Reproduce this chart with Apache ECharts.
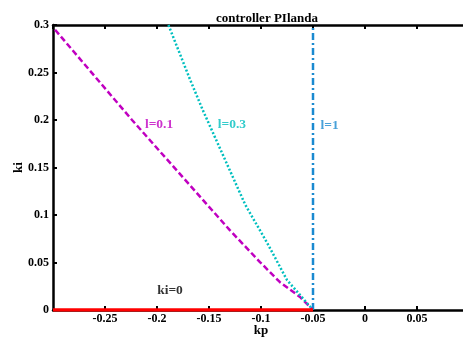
<!DOCTYPE html>
<html><head><meta charset="utf-8">
<script src="https://cdn.jsdelivr.net/npm/echarts@6/dist/echarts.min.js"></script>
<style>html,body{margin:0;padding:0;background:#fff}#c{width:463px;height:337px}</style>
</head><body><div id="c"></div>
<script>
// Curve l=0.1 (kp, ki) points
const l01 = [[-0.298,0.295],[-0.224,0.2],[-0.147,0.105],[-0.130,0.084],[-0.101,0.0505],[-0.082,0.0295],[-0.0625,0.0137],[-0.05,0]];
// Curve l=0.3
const l03 = [[-0.189,0.3],[-0.168,0.242],[-0.156,0.2105],[-0.115,0.1105],[-0.094,0.0705],[-0.075,0.0316],[-0.05,0]];
// Curve l=1 (vertical)
const l1 = [[-0.05,0],[-0.05,0.3]];
// ki=0 boundary
const ki0 = [[-0.3,0],[-0.05,0]];
// annotation texts and anchor points
const annTexts = ['l=0.1','l=0.3','l=1','ki=0'];
const annPoints = [[-0.198,0.195],[-0.128,0.195],[-0.034,0.194],[-0.1875,0.02]];
const annColors = ['#c000c0','#00bfbf','#1a8ad0','#000000'];

const FONT = 'Liberation Serif';
const chart = echarts.init(document.getElementById('c'));
const axisCommon = {
  min:-0.3, max:0.1, interval:0.05
};
chart.setOption({
  animation:false,
  title:{text:'controller PIlanda', left:262, top:7, textAlign:'center',
    textStyle:{fontFamily:FONT,fontWeight:'bold',fontSize:13,color:'#000'}},
  grid:{left:53, top:25, width:416, height:285, containLabel:false, outerBoundsMode:'none'},
  xAxis:[{
    type:'value', ...axisCommon, position:'bottom',
    name:'kp', nameLocation:'middle', nameGap:14, nameMoveOverlap:false,
    nameTextStyle:{fontFamily:FONT,fontWeight:'bold',fontSize:13,color:'#000'},
    axisLine:{onZero:false,lineStyle:{color:'#000',width:2.5}},
    axisTick:{inside:true,length:4,lineStyle:{color:'#000',width:2}},
    axisLabel:{showMinLabel:false,showMaxLabel:false,margin:3,fontFamily:FONT,fontWeight:'bold',fontSize:12,color:'#000'},
    splitLine:{show:false}
  },{
    type:'value', ...axisCommon, position:'top',
    axisLine:{onZero:false,lineStyle:{color:'#000',width:2.5}},
    axisTick:{inside:true,length:4,lineStyle:{color:'#000',width:2}},
    axisLabel:{show:false}, splitLine:{show:false}
  }],
  yAxis:{
    type:'value', min:0, max:0.3, interval:0.05, position:'left',
    name:'ki', nameLocation:'middle', nameGap:28, nameRotate:90, nameMoveOverlap:false,
    nameTextStyle:{fontFamily:FONT,fontWeight:'bold',fontSize:13,color:'#000'},
    axisLine:{show:true,onZero:false,lineStyle:{color:'#000',width:2.5}},
    axisTick:{show:true,inside:true,length:4,lineStyle:{color:'#000',width:2}},
    axisLabel:{margin:4,fontFamily:FONT,fontWeight:'bold',fontSize:12,color:'#000'},
    splitLine:{show:false}
  },
  series:[
    {type:'line', data:ki0, showSymbol:false, z:5, lineStyle:{color:'#ff0000',width:3.5}},
    {type:'line', data:l01, showSymbol:false, lineStyle:{color:'#c000c0',width:2.5,type:[6,3]}},
    {type:'line', data:l03, showSymbol:false, lineStyle:{color:'#00bfbf',width:2.5,type:[2,2]}},
    {type:'line', data:l1, showSymbol:false, lineStyle:{color:'#1a8ad0',width:2.5,type:[7,3,2,3]}},
    {type:'scatter', symbolSize:0, silent:true,
      data:annPoints.map((p,i)=>({value:p, label:{show:true, formatter:annTexts[i], position:'inside',
        fontFamily:FONT, fontWeight:'bold', fontSize:13.5, color:annColors[i]}}))}
  ]
});
</script></body></html>
